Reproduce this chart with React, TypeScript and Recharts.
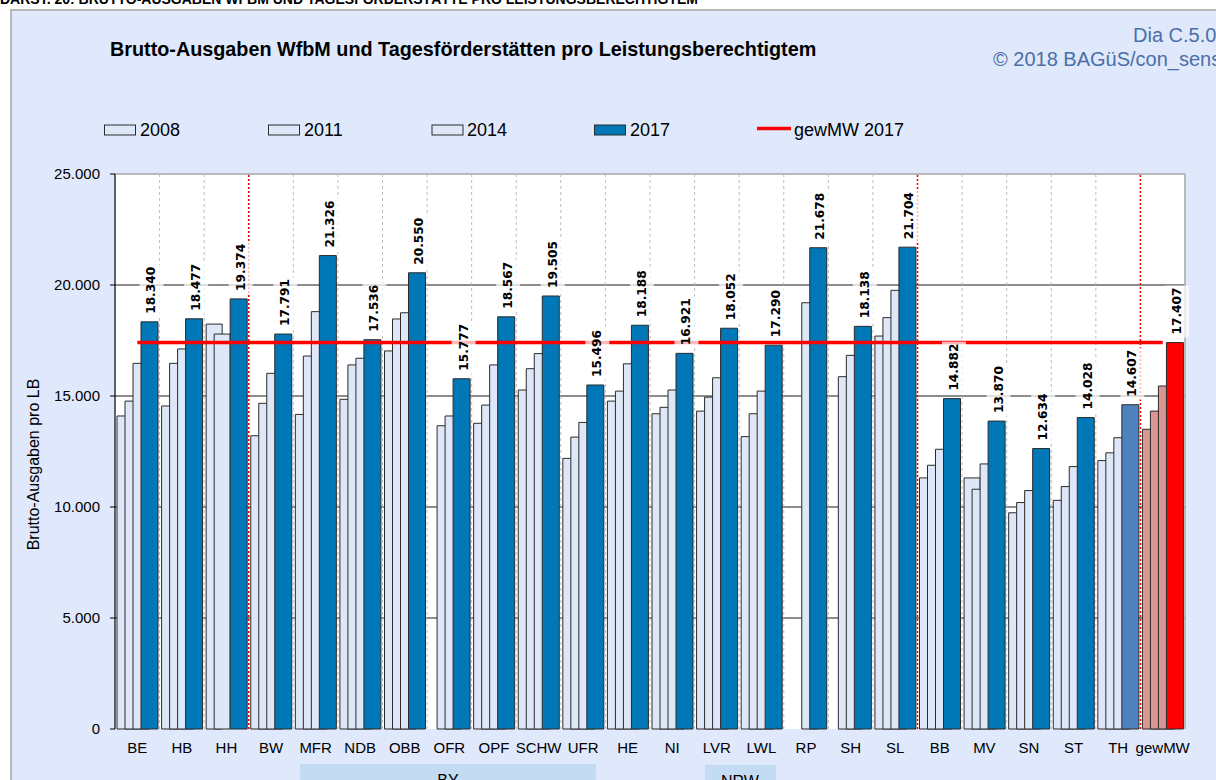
import React from "react";
import {
  ComposedChart,
  Bar,
  Line,
  XAxis,
  YAxis,
  CartesianGrid,
  ReferenceLine,
  LabelList,
  Cell,
} from "recharts";

// ---------- data ----------
const categories = [
  "BE", "HB", "HH", "BW", "MFR", "NDB", "OBB", "OFR", "OPF", "SCHW", "UFR", "HE",
  "NI", "LVR", "LWL", "RP", "SH", "SL", "BB", "MV", "SN", "ST", "TH", "gewMW",
];

const values2008: (number | null)[] = [
  14100, 14550, 18240, 13210, 14170, 14850, 17030, null, 13770, 15270, 12190, 14770,
  14200, 14320, 13170, null, null, 17700, 11310, 11310, 9740, 10300, 12090, 13500,
];

const values2011: (number | null)[] = [
  14770, 16470, 17790, 14670, 16800, 16400, 18470, 13660, 14590, 16230, 13150, 15220,
  14490, 14950, 14200, null, 15870, 18530, 11880, 10800, 10200, 10920, 12440, 14320,
];

const values2014: (number | null)[] = [
  16470, 17120, null, 16020, 18800, 16700, 18750, 14100, 16400, 16910, 13810, 16450,
  15270, 15820, 15220, 19200, 16830, 19760, 12600, 11940, 10740, 11820, 13120, 15450,
];

const values2017: number[] = [
  18340, 18477, 19374, 17791, 21326, 17536, 20550, 15777, 18567, 19505, 15496, 18188,
  16921, 18052, 17290, 21678, 18138, 21704, 14882, 13870, 12634, 14028, 14607, 17407,
];

const GEW_MW_2017 = 17407;

const yTicks = [0, 5000, 10000, 15000, 20000, 25000];
const gridValues = [5000, 10000, 15000, 20000];
// first category of each new region group (red dotted separators)
const regionStarts = ["BW", "BB", "gewMW"];

const seriesNames = ["2008", "2011", "2014", "2017", "gewMW 2017"];

const data = categories.map((cat, i) => ({
  cat,
  idx: i,
  v2008: values2008[i],
  v2011: values2011[i],
  v2014: values2014[i],
  v2017: values2017[i],
  mw: GEW_MW_2017,
}));

const boundaryTicks = Array.from({ length: categories.length + 1 }, (_, i) => i);
const innerStarts = categories.filter((c, i) => i > 0 && !regionStarts.includes(c));
const lastCategory = categories[categories.length - 1];

// ---------- styling ----------
const LIGHT = "#dde7f8";
const BLUE = "#0077b7";
const TH_BLUE = "#4f81bd";
const MW_LIGHT = "#d99694";
const MW_RED = "#ff0000";
const EDGE = "#2b2b2b";
const FONT = "'Liberation Sans', Arial, sans-serif";

const fmt = (v: number) =>
  String(Math.round(v)).replace(/\B(?=(\d{3})+(?!\d))/g, ".");

const lightFill = (cat: string) => (cat === "gewMW" ? MW_LIGHT : LIGHT);
const mainFill = (cat: string) =>
  cat === "gewMW" ? MW_RED : cat === "TH" ? TH_BLUE : BLUE;

const ValueLabel = (props: any) => {
  const vb = props.viewBox || {};
  const x = props.x ?? vb.x;
  const y = props.y ?? vb.y;
  const width = props.width ?? vb.width;
  const value = props.value;
  if (value == null || x == null || y == null) return null;
  const cx = x + width / 2 + 2;
  const top = y - 8;
  const len = 46;
  return (
    <g>
      <rect
        x={cx - 12}
        y={top - len - 3}
        width={24}
        height={len + 6}
        fill="#ffffff"
        fillOpacity={0.72}
      />
      <text
        x={cx}
        y={top}
        transform={`rotate(-90 ${cx} ${top})`}
        textAnchor="start"
        dominantBaseline="central"
        fontFamily="'DejaVu Sans', Verdana, sans-serif"
        fontWeight="bold"
        fontSize={12.2}
        fill="#000"
      >
        {fmt(Number(value))}
      </text>
    </g>
  );
};

const YLabel = (props: any) => {
  const vb = props.viewBox || {};
  const cx = vb.x + 33;
  const cy = vb.y + vb.height / 2 + 13;
  return (
    <text
      x={cx}
      y={cy}
      transform={`rotate(-90 ${cx} ${cy})`}
      textAnchor="middle"
      dominantBaseline="central"
      fontFamily={FONT}
      fontSize={16}
      fill="#000"
    >
      Brutto-Ausgaben pro LB
    </text>
  );
};

const legendItems = [
  { name: seriesNames[0], kind: "box", fill: LIGHT, x: 104.5, tx: 140 },
  { name: seriesNames[1], kind: "box", fill: LIGHT, x: 268.5, tx: 304 },
  { name: seriesNames[2], kind: "box", fill: LIGHT, x: 432, tx: 467 },
  { name: seriesNames[3], kind: "box", fill: BLUE, x: 594.5, tx: 630 },
  { name: seriesNames[4], kind: "line", fill: MW_RED, x: 757, tx: 794 },
];

export default function App() {
  return (
    <div
      style={{
        position: "absolute",
        left: 0,
        top: 0,
        width: 1216,
        height: 780,
        overflow: "hidden",
        background: "#ffffff",
      }}
    >
      {/* frame */}
      <div
        style={{
          position: "absolute",
          left: 10,
          top: 9,
          width: 1230,
          height: 800,
          background: "#dfe9fb",
          border: "2px solid #b8b8b8",
          boxSizing: "border-box",
        }}
      />
      {/* decorations */}
      <svg
        width={1216}
        height={780}
        style={{ position: "absolute", left: 0, top: 0 }}
      >
        <text
          x={0}
          y={4}
          fontFamily={FONT}
          fontWeight="bold"
          fontSize={14}
          fill="#000"
        >
          DARST. 20: BRUTTO-AUSGABEN WFBM UND TAGESFÖRDERSTÄTTE PRO LEISTUNGSBERECHTIGTEM
        </text>
        <text
          x={110}
          y={56}
          fontFamily={FONT}
          fontWeight="bold"
          fontSize={19.8}
          fill="#000"
        >
          Brutto-Ausgaben WfbM und Tagesförderstätten pro Leistungsberechtigtem
        </text>
        <text x={1133} y={42} fontFamily={FONT} fontSize={20} fill="#4a6fa8">
          Dia C.5.0
        </text>
        <text x={993} y={66} fontFamily={FONT} fontSize={20} fill="#4a6fa8">
          © 2018 BAGüS/con_sens
        </text>
        {legendItems.map((it) => (
          <g key={it.name}>
            {it.kind === "box" ? (
              <rect
                x={it.x}
                y={125}
                width={31}
                height={10}
                fill={it.fill}
                stroke={EDGE}
                strokeWidth={1}
              />
            ) : (
              <line
                x1={it.x}
                x2={it.x + 34}
                y1={128.5}
                y2={128.5}
                stroke={it.fill}
                strokeWidth={3.5}
              />
            )}
            <text x={it.tx} y={136} fontFamily={FONT} fontSize={18} fill="#000">
              {it.name}
            </text>
          </g>
        ))}
        <rect x={300} y={764} width={296} height={30} fill="#c4dbf4" />
        <text x={448} y={786} textAnchor="middle" fontFamily={FONT} fontSize={16} fill="#000">
          BY
        </text>
        <rect x={705} y={765} width={71} height={30} fill="#c4dbf4" />
        <text x={740} y={787} textAnchor="middle" fontFamily={FONT} fontSize={16} fill="#000">
          NRW
        </text>
      </svg>

      <div style={{ position: "absolute", left: 0, top: 0 }}>
        <ComposedChart
          width={1216}
          height={780}
          data={data}
          margin={{ top: 174, right: 31, bottom: 0, left: 0 }}
          barGap={-8}
        >
          <XAxis
            xAxisId="b"
            type="number"
            dataKey="idx"
            domain={[0, categories.length]}
            allowDataOverflow
            ticks={boundaryTicks}
            interval={0}
            height={0}
            tickSize={5}
            tickFormatter={() => ""}
            axisLine={{ stroke: "#000", strokeWidth: 1.2 }}
            tickLine={{ stroke: "#000" }}
          />
          <XAxis
            xAxisId="a"
            dataKey="cat"
            height={51}
            interval={0}
            axisLine={false}
            tickLine={false}
            tickSize={0}
            tickMargin={13}
            tick={{ fontFamily: FONT, fontSize: 15, fill: "#000" }}
          />
          <XAxis xAxisId="c" dataKey="cat" hide />
          <YAxis
            domain={[0, 25000]}
            ticks={yTicks}
            interval={0}
            width={115}
            tickSize={5}
            tickMargin={10}
            tickFormatter={(v: number) => fmt(v)}
            tick={{ fontFamily: FONT, fontSize: 15, fill: "#000" }}
            axisLine={{ stroke: "#000", strokeWidth: 1.2 }}
            tickLine={{ stroke: "#000" }}
            label={YLabel}
          />
          <CartesianGrid
            xAxisId="a"
            vertical={false}
            horizontalValues={gridValues}
            stroke="#1a1a1a"
            strokeWidth={1}
            fill="#ffffff"
          />
          <ReferenceLine y={25000} xAxisId="a" stroke="#a6a6a6" strokeWidth={1.5} />
          <ReferenceLine
            x={lastCategory}
            xAxisId="a"
            position="end"
            stroke="#a6a6a6"
            strokeWidth={1.5}
          />
          {innerStarts.map((c) => (
            <ReferenceLine
              key={"g" + c}
              x={c}
              xAxisId="a"
              position="start"
              stroke="#bdbdbd"
              strokeDasharray="3 3"
              strokeWidth={1}
            />
          ))}

          <Bar xAxisId="a" dataKey="v2008" name={seriesNames[0]} barSize={16} stroke={EDGE} strokeWidth={1} isAnimationActive={false}>
            {data.map((d) => (
              <Cell key={d.cat} fill={lightFill(d.cat)} />
            ))}
          </Bar>
          <Bar xAxisId="a" dataKey="v2011" name={seriesNames[1]} barSize={16} stroke={EDGE} strokeWidth={1} isAnimationActive={false}>
            {data.map((d) => (
              <Cell key={d.cat} fill={lightFill(d.cat)} />
            ))}
          </Bar>
          <Bar xAxisId="a" dataKey="v2014" name={seriesNames[2]} barSize={16} stroke={EDGE} strokeWidth={1} isAnimationActive={false}>
            {data.map((d) => (
              <Cell key={d.cat} fill={lightFill(d.cat)} />
            ))}
          </Bar>
          <Bar xAxisId="a" dataKey="v2017" name={seriesNames[3]} barSize={17} stroke={EDGE} strokeWidth={1} isAnimationActive={false}>
            {data.map((d) => (
              <Cell key={d.cat} fill={mainFill(d.cat)} />
            ))}
          </Bar>

          {regionStarts.map((c) => (
            <ReferenceLine
              key={"r" + c}
              x={c}
              xAxisId="a"
              position="start"
              stroke="#ff0000"
              strokeDasharray="2 2"
              strokeWidth={1.6}
            />
          ))}

          <Line
            xAxisId="a"
            dataKey="mw"
            name={seriesNames[4]}
            stroke={MW_RED}
            strokeWidth={3.5}
            dot={false}
            activeDot={false}
            isAnimationActive={false}
          />

          {/* invisible copy of the bar layout that carries the value labels above the line */}
          <Bar xAxisId="c" dataKey="v2008" barSize={16} fill="#000" fillOpacity={0} isAnimationActive={false} />
          <Bar xAxisId="c" dataKey="v2011" barSize={16} fill="#000" fillOpacity={0} isAnimationActive={false} />
          <Bar xAxisId="c" dataKey="v2014" barSize={16} fill="#000" fillOpacity={0} isAnimationActive={false} />
          <Bar xAxisId="c" dataKey="v2017" barSize={17} fill="#000" fillOpacity={0} isAnimationActive={false}>
            <LabelList dataKey="v2017" content={ValueLabel} />
          </Bar>
        </ComposedChart>
      </div>
    </div>
  );
}
